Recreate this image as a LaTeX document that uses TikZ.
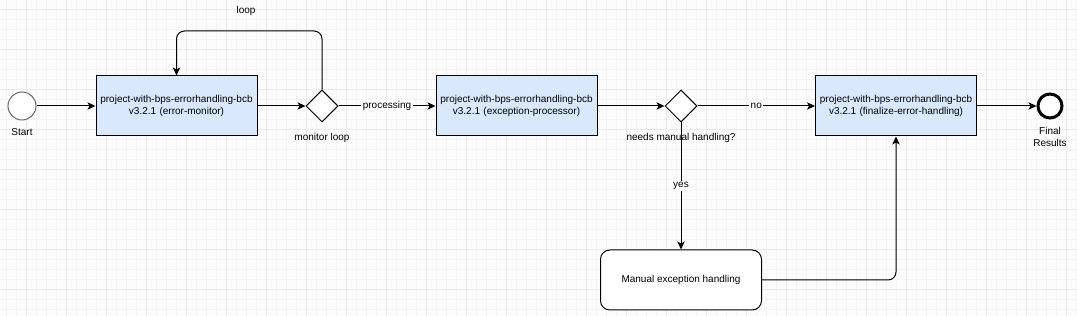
\documentclass[tikz,border=0pt]{standalone}
\usepackage{fontspec}
\setmainfont{Liberation Sans}
\usetikzlibrary{shapes.geometric,arrows.meta,positioning}

\definecolor{taskfill}{HTML}{DAE8FC}
\definecolor{gridminor}{HTML}{F4F4F4}
\definecolor{gridmajor}{HTML}{EAEAEA}
\definecolor{startline}{HTML}{666666}

\begin{document}
\begin{tikzpicture}[
  x=0.75pt, y=-0.75pt,
  font=\fontsize{7.5}{9.5}\selectfont,
  task/.style={draw, rectangle, minimum width=120.75pt, minimum height=45pt,
    text width=118pt, align=center, fill=taskfill, line width=0.75pt, inner sep=1pt},
  manualtask/.style={draw, rectangle, minimum width=120.75pt, minimum height=45pt,
    align=center, fill=white, rounded corners=7pt, line width=0.75pt},
  gateway/.style={draw, diamond, minimum width=24pt, minimum height=24pt,
    inner sep=0pt, fill=white, line width=0.75pt},
  startev/.style={draw=startline, circle, minimum size=21pt, inner sep=0pt,
    fill=white, line width=0.75pt},
  endev/.style={draw, circle, minimum size=18pt, inner sep=0pt,
    fill=white, line width=2.25pt},
  lbl/.style={inner sep=1pt, align=center},
  elbl/.style={fill=white, inner sep=1pt},
  flow/.style={line width=0.75pt, -{Stealth[length=6pt, width=5.5pt, inset=1.5pt]}}
]
  \useasboundingbox (0,0) rectangle (1077,316);

  % background grid
  \fill[white!98!gray] (0,0) rectangle (1077,316);
  \begin{scope}
    \clip (0,0) rectangle (1077,316);
    \foreach \gx in {6.7,16.7,...,1080} \draw[gridminor, line width=0.75pt] (\gx,0) -- (\gx,316);
    \foreach \gy in {0,10,...,320} \draw[gridminor, line width=0.75pt] (0,\gy) -- (1077,\gy);
    \foreach \gx in {-13.3,26.7,...,1080} \draw[gridmajor, line width=0.75pt] (\gx,0) -- (\gx,316);
    \foreach \gy in {10,50,...,320} \draw[gridmajor, line width=0.75pt] (0,\gy) -- (1077,\gy);
  \end{scope}

  % events, tasks and gateways
  \node[startev] (start) at (22,106) {};
  \node[lbl] (startlbl) at (22,132) {Start};

  \node[task] (monitor) at (176.5,106) {project-with-bps-errorhandling-bcb\\v3.2.1 (error-monitor)};
  \node[gateway] (monloop) at (322,106) {};
  \node[lbl] (monlooplbl) at (322,138) {monitor loop};

  \node[task] (processor) at (516.5,106) {project-with-bps-errorhandling-bcb\\v3.2.1 (exception-processor)};
  \node[gateway] (manualq) at (681,106) {};
  \node[lbl] (manualqlbl) at (681,138) {needs manual handling?};

  \node[task] (finalize) at (896,106) {project-with-bps-errorhandling-bcb\\v3.2.1 (finalize-error-handling)};
  \node[endev] (final) at (1050,106) {};
  \node[lbl] (finallbl) at (1050,137) {Final\\Results};

  \node[manualtask] (manual) at (681,280) {Manual exception handling};

  \coordinate (looptop) at (246,31);
  \node[lbl] (looplbl) at (246,11) {loop};

  % sequence flows
  \draw[flow] (start) -- (monitor);
  \draw[flow] (monitor) -- (monloop);
  \draw[flow, rounded corners=6pt] (monloop.north) |- (looptop) -| (monitor.north);
  \draw[flow] (monloop) -- node[elbl] {processing} (processor);
  \draw[flow] (processor) -- (manualq);
  \draw[flow] (manualq) -- node[elbl] {no} (finalize);
  \draw[flow] (manualq) -- node[elbl, pos=0.5] {yes} (manual);
  \draw[flow, rounded corners=6pt] (manual.east) -| (finalize.south);
  \draw[flow] (finalize) -- (final);
\end{tikzpicture}
\end{document}
